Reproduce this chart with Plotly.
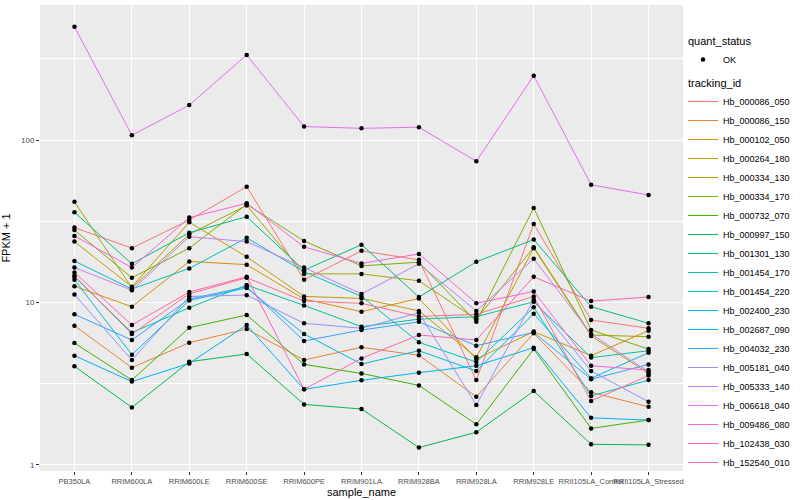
import plotly.graph_objects as go

samples = ["PB350LA", "RRIM600LA", "RRIM600LE", "RRIM600SE", "RRIM600PE", "RRIM901LA",
           "RRIM928BA", "RRIM928LA", "RRIM928LE", "RRII105LA_Control", "RRII105LA_Stressed"]

tracking_ids = ["Hb_000086_050", "Hb_000086_150", "Hb_000102_050", "Hb_000264_180",
                "Hb_000334_130", "Hb_000334_170", "Hb_000732_070", "Hb_000997_150",
                "Hb_001301_130", "Hb_001454_170", "Hb_001454_220", "Hb_002400_230",
                "Hb_002687_090", "Hb_004032_230", "Hb_005181_040", "Hb_005333_140",
                "Hb_006618_040", "Hb_009486_080", "Hb_102438_030", "Hb_152540_010"]

# FPKM + 1 per sample (order of `samples`)
hb_000086_050 = [28.9, 21.6, 32.2, 51.6, 13.8, 20.8, 18.3, 3.33, 30.4, 7.8, 6.94]
hb_000086_150 = [7.2, 3.97, 5.66, 6.87, 4.43, 5.3, 4.73, 2.63, 6.46, 2.80, 2.28]
hb_000102_050 = [12.6, 9.42, 17.9, 17.1, 10.5, 8.78, 10.6, 4.49, 6.62, 4.71, 6.71]
hb_000264_180 = [23.7, 12.5, 31.2, 19.1, 10.9, 10.6, 8.87, 4.6, 21.6, 6.22, 3.66]
hb_000334_130 = [41.7, 12.3, 26.3, 39.6, 15.0, 15.0, 13.6, 7.88, 21.9, 6.31, 6.16]
hb_000334_170 = [27.9, 14.2, 21.6, 40.2, 23.9, 16.8, 17.7, 7.62, 38.2, 6.77, 5.17]
hb_000732_070 = [5.63, 3.33, 7.0, 8.38, 4.16, 3.66, 3.09, 1.78, 5.17, 1.68, 1.89]
hb_000997_150 = [4.05, 2.26, 4.32, 4.82, 2.36, 2.21, 1.28, 1.59, 2.85, 1.34, 1.33]
hb_001301_130 = [35.9, 17.3, 26.9, 33.7, 15.8, 22.7, 10.8, 17.8, 24.4, 9.42, 7.45]
hb_001454_170 = [14.4, 6.52, 9.29, 12.8, 9.6, 7.1, 7.9, 8.18, 10.1, 4.58, 5.05]
hb_001454_220 = [18.0, 12.1, 16.2, 25.0, 15.5, 10.9, 5.69, 4.3, 9.34, 2.66, 3.33]
hb_002400_230 = [13.8, 4.77, 10.3, 12.3, 6.4, 4.18, 5.05, 3.79, 8.53, 3.42, 4.91]
hb_002687_090 = [4.71, 3.26, 4.22, 7.27, 2.92, 3.32, 3.70, 4.08, 5.27, 1.95, 1.89]
hb_004032_230 = [8.46, 5.88, 10.5, 12.5, 5.8, 6.77, 7.6, 5.42, 6.55, 3.37, 4.16]
hb_005181_040 = [11.2, 4.43, 10.9, 11.1, 7.45, 6.94, 8.65, 2.34, 10.4, 3.79, 2.45]
hb_005333_140 = [16.4, 11.9, 25.4, 23.7, 16.4, 11.3, 17.3, 8.87, 18.6, 6.4, 3.75]
hb_006618_040 = [498, 107, 164, 334, 121, 118, 120, 74, 249, 53, 45.9]
hb_009486_080 = [25.7, 16.4, 33.3, 40.8, 22.0, 17.4, 19.9, 9.89, 11.7, 4.08, 3.84]
hb_102438_030 = [15.3, 7.27, 11.6, 14.4, 2.92, 4.53, 6.31, 5.88, 14.4, 10.2, 10.8]
hb_152540_010 = [14.6, 6.4, 11.3, 14.2, 10.2, 9.89, 8.2, 8.46, 10.9, 2.48, 3.55]

series = [hb_000086_050, hb_000086_150, hb_000102_050, hb_000264_180, hb_000334_130,
          hb_000334_170, hb_000732_070, hb_000997_150, hb_001301_130, hb_001454_170,
          hb_001454_220, hb_002400_230, hb_002687_090, hb_004032_230, hb_005181_040,
          hb_005333_140, hb_006618_040, hb_009486_080, hb_102438_030, hb_152540_010]

palette = ["#F8766D", "#EA8331", "#D89000", "#C09B00", "#A3A500", "#7CAE00", "#39B600",
           "#00BB4E", "#00BF7D", "#00C1A3", "#00BFC4", "#00BAE0", "#00B0F6", "#35A2FF",
           "#9590FF", "#C77CFF", "#E76BF3", "#FA62DB", "#FF62BC", "#FF6C91"]

y_ticks = [1, 10, 100]
y_minor = [10 ** 0.5, 10 ** 1.5, 10 ** 2.5]

FONT = "Liberation Sans, Arial, sans-serif"

fig = go.Figure()
for i, (name, vals, col) in enumerate(zip(tracking_ids, series, palette)):
    fig.add_trace(go.Scatter(
        x=samples, y=vals, mode="lines", name=name,
        line=dict(color=col, width=1),
        legendgroup="tracking_id", legendgrouptitle=dict(text="tracking_id"),
        legendrank=10 + i,
    ))

all_x = [s for vals in series for s in samples]
all_y = [v for vals in series for v in vals]
fig.add_trace(go.Scatter(
    x=all_x, y=all_y, mode="markers", name="OK",
    marker=dict(color="black", size=4.5),
    legendgroup="quant_status", legendgrouptitle=dict(text="quant_status"),
    legendrank=1,
))

fig.update_layout(
    template="none",
    width=800, height=500,
    margin=dict(l=40, r=115, t=5, b=29),
    paper_bgcolor="white",
    plot_bgcolor="#EBEBEB",
    font=dict(family=FONT, size=9, color="#4D4D4D"),
    showlegend=True,
    legend=dict(
        x=1.0, y=0.955, xanchor="left", yanchor="top",
        traceorder="grouped", tracegroupgap=4,
        font=dict(family=FONT, size=9, color="black"),
        grouptitlefont=dict(family=FONT, size=11, color="black"),
        bgcolor="rgba(0,0,0,0)", itemwidth=30,
    ),
    xaxis=dict(
        type="category", categoryorder="array", categoryarray=samples,
        range=[-0.6, len(samples) - 0.4],
        showgrid=True, gridcolor="white", gridwidth=1.1,
        ticks="outside", ticklen=3, tickcolor="#333333", tickwidth=1,
        tickangle=0, tickfont=dict(size=7.5, color="#4D4D4D"),
        showline=False, zeroline=False, automargin=False,
    ),
    yaxis=dict(
        type="log", range=[-0.037, 2.831],
        tickvals=y_ticks, ticktext=[str(v) for v in y_ticks],
        showgrid=True, gridcolor="white", gridwidth=1.1,
        minor=dict(tickvals=y_minor, showgrid=True, gridcolor="white", gridwidth=0.55, ticks=""),
        ticks="outside", ticklen=3, tickcolor="#333333", tickwidth=1,
        tickfont=dict(size=8, color="#4D4D4D"),
        showline=False, zeroline=False, automargin=False,
        title=dict(text="FPKM + 1", font=dict(size=11, color="black"), standoff=8),
    ),
    annotations=[dict(
        text="sample_name", xref="paper", yref="paper", x=0.5, y=0,
        xanchor="center", yanchor="bottom", yshift=-29, showarrow=False,
        font=dict(family=FONT, size=11, color="black"),
    )],
)

fig.write_html(
    "out.html",
    config={"displayModeBar": False},
    post_script="document.body.style.margin='0px'; document.body.style.overflow='hidden';",
)
